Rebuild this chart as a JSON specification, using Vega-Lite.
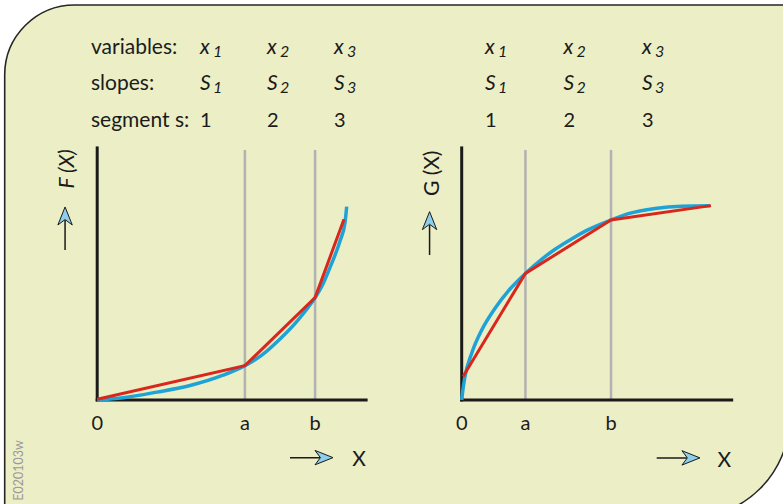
{
  "$schema": "https://vega.github.io/schema/vega-lite/v6.json",
  "width": 783,
  "height": 504,
  "autosize": {"type": "fit", "contains": "padding"},
  "padding": 0,
  "background": "white",
  "config": {
    "view": {"stroke": null},
    "axis": {"disable": true},
    "text": {"font": "Lato", "color": "#1b1b1b"}
  },
  "datasets": {
    "curveF": [
      {"X": 0, "F": 0}, {"X": 0.96, "F": 0.09}, {"X": 2.21, "F": 0.31}, {"X": 3.44, "F": 0.57},
      {"X": 4.66, "F": 0.98}, {"X": 5.47, "F": 1.36}, {"X": 6.12, "F": 1.8}, {"X": 6.77, "F": 2.42},
      {"X": 7.42, "F": 3.15}, {"X": 8.07, "F": 4.06}, {"X": 8.34, "F": 4.55}, {"X": 8.62, "F": 5.25},
      {"X": 8.99, "F": 6.3}, {"X": 9.18, "F": 7.05}, {"X": 9.24, "F": 7.67}
    ],
    "chordF": [
      {"X": 0, "F": 0.03}, {"X": 5.47, "F": 1.36}, {"X": 8.07, "F": 4.06}, {"X": 9.14, "F": 7.17}
    ],
    "breaksF": [
      {"name": "0", "X": 0}, {"name": "a", "X": 5.47}, {"name": "b", "X": 8.07}
    ],
    "curveG": [
      {"X": 0, "G": 0}, {"X": 0.06, "G": 0.52}, {"X": 0.12, "G": 0.92}, {"X": 0.37, "G": 1.85},
      {"X": 0.74, "G": 2.77}, {"X": 1.23, "G": 3.63}, {"X": 1.73, "G": 4.33}, {"X": 2.36, "G": 5.02},
      {"X": 2.96, "G": 5.58}, {"X": 3.46, "G": 5.98}, {"X": 4.07, "G": 6.39}, {"X": 4.69, "G": 6.76},
      {"X": 5.53, "G": 7.14}, {"X": 6.17, "G": 7.39}, {"X": 7.16, "G": 7.6}, {"X": 8.15, "G": 7.69},
      {"X": 9.2, "G": 7.71}
    ],
    "chordG": [
      {"X": 0.05, "G": 0.93}, {"X": 2.36, "G": 5.02}, {"X": 5.53, "G": 7.14}, {"X": 9.23, "G": 7.71}
    ],
    "breaksG": [
      {"name": "0", "X": 0}, {"name": "a", "X": 2.36}, {"name": "b", "X": 5.53}
    ],
    "segments": [
      {"seg": 1, "var": "x", "slope": "S"},
      {"seg": 2, "var": "x", "slope": "S"},
      {"seg": 3, "var": "x", "slope": "S"}
    ]
  },
  "layer": [
    {
      "layer": [
        {
          "data": {"values": [{}]},
          "mark": {"type": "rect", "fill": "#ECEEC6", "stroke": "#262626", "strokeWidth": 1.6,
                   "cornerRadiusTopLeft": 70, "cornerRadiusBottomRight": 100, "clip": true},
          "encoding": {
            "x": {"datum": -3.426, "scale": {"domain": [-3.6, 25.4]}},
            "x2": {"datum": 25.641},
            "y": {"datum": 15.672, "scale": {"domain": [-4.13, 15.87]}},
            "y2": {"datum": -4.678}
          }
        },
        {
          "data": {"name": "breaksF"},
          "transform": [{"filter": "datum.X > 0"}],
          "mark": {"type": "rule", "stroke": "#b2b2b2", "strokeWidth": 2.5},
          "encoding": {
            "x": {"field": "X", "type": "quantitative", "scale": {"domain": [-3.6, 25.4]}},
            "y": {"datum": 0, "scale": {"domain": [-4.13, 15.87]}},
            "y2": {"datum": 9.92}
          }
        },
        {
          "data": {"values": [{}]},
          "mark": {"type": "rule", "stroke": "#1a1a1a", "strokeWidth": 3, "strokeCap": "square"},
          "encoding": {
            "x": {"datum": 0, "scale": {"domain": [-3.6, 25.4]}},
            "y": {"datum": 0, "scale": {"domain": [-4.13, 15.87]}},
            "y2": {"datum": 10}
          }
        },
        {
          "data": {"values": [{}]},
          "mark": {"type": "rule", "stroke": "#1a1a1a", "strokeWidth": 3, "strokeCap": "square"},
          "encoding": {
            "x": {"datum": 0, "scale": {"domain": [-3.6, 25.4]}},
            "x2": {"datum": 9.96},
            "y": {"datum": 0, "scale": {"domain": [-4.13, 15.87]}}
          }
        },
        {
          "data": {"name": "curveF"},
          "mark": {"type": "line", "stroke": "#1FA2D6", "strokeWidth": 3.5, "interpolate": "monotone"},
          "encoding": {
            "x": {"field": "X", "type": "quantitative", "scale": {"domain": [-3.6, 25.4]}},
            "y": {"field": "F", "type": "quantitative", "scale": {"domain": [-4.13, 15.87]}}
          }
        },
        {
          "data": {"name": "chordF"},
          "mark": {"type": "line", "stroke": "#D8271D", "strokeWidth": 3},
          "encoding": {
            "x": {"field": "X", "type": "quantitative", "scale": {"domain": [-3.6, 25.4]}},
            "y": {"field": "F", "type": "quantitative", "scale": {"domain": [-4.13, 15.87]}}
          }
        },
        {
          "data": {"name": "breaksF"},
          "mark": {"type": "text", "fontSize": 20, "align": "center", "baseline": "alphabetic"},
          "encoding": {
            "x": {"field": "X", "type": "quantitative", "scale": {"domain": [-3.6, 25.4]}},
            "y": {"datum": -1.193, "scale": {"domain": [-4.13, 15.87]}},
            "text": {"field": "name", "type": "nominal"}
          }
        },
        {
          "data": {"values": [{}]},
          "mark": {"type": "text", "text": "F (X)", "angle": 270, "fontSize": 21, "fontStyle": "italic",
                   "align": "center", "baseline": "middle"},
          "encoding": {
            "x": {"datum": -1.081, "scale": {"domain": [-3.6, 25.4]}},
            "y": {"datum": 9.164, "scale": {"domain": [-4.13, 15.87]}}
          }
        },
        {
          "data": {"values": [{}]},
          "mark": {"type": "rule", "stroke": "#1a1a1a", "strokeWidth": 1.5},
          "encoding": {
            "x": {"datum": -1.19, "scale": {"domain": [-3.6, 25.4]}},
            "y": {"datum": 5.949, "scale": {"domain": [-4.13, 15.87]}},
            "y2": {"datum": 7.14}
          }
        },
        {
          "data": {"values": [{}]},
          "mark": {"type": "point", "shape": "M0,-1L0.8,1L0,0.4L-0.8,1Z", "size": 324, "filled": true,
                   "fill": "#8ECDEB", "stroke": "#1a1a1a", "strokeWidth": 1, "opacity": 1},
          "encoding": {
            "x": {"datum": -1.19, "scale": {"domain": [-3.6, 25.4]}},
            "y": {"datum": 7.3, "scale": {"domain": [-4.13, 15.87]}}
          }
        },
        {
          "data": {"values": [{}]},
          "mark": {"type": "rule", "stroke": "#1a1a1a", "strokeWidth": 1.5},
          "encoding": {
            "x": {"datum": 7.141, "scale": {"domain": [-3.6, 25.4]}},
            "x2": {"datum": 8.437},
            "y": {"datum": -2.29, "scale": {"domain": [-4.13, 15.87]}}
          }
        },
        {
          "data": {"values": [{}]},
          "mark": {"type": "point", "shape": "M0,-1L0.8,1L0,0.4L-0.8,1Z", "size": 324, "filled": true,
                   "angle": 90, "fill": "#8ECDEB", "stroke": "#1a1a1a", "strokeWidth": 1, "opacity": 1},
          "encoding": {
            "x": {"datum": 8.4, "scale": {"domain": [-3.6, 25.4]}},
            "y": {"datum": -2.29, "scale": {"domain": [-4.13, 15.87]}}
          }
        },
        {
          "data": {"values": [{}]},
          "mark": {"type": "text", "text": "X", "fontSize": 21, "align": "center", "baseline": "alphabetic"},
          "encoding": {
            "x": {"datum": 9.696, "scale": {"domain": [-3.6, 25.4]}},
            "y": {"datum": -2.62, "scale": {"domain": [-4.13, 15.87]}}
          }
        },
        {
          "data": {"values": [{}]},
          "mark": {"type": "text", "text": "E020103w", "angle": 270, "fontSize": 12.5, "color": "#9a9a9a",
                   "align": "center", "baseline": "middle"},
          "encoding": {
            "x": {"datum": -2.896, "scale": {"domain": [-3.6, 25.4]}},
            "y": {"datum": -2.801, "scale": {"domain": [-4.13, 15.87]}}
          }
        }
      ]
    },
    {
      "layer": [
        {
          "data": {"name": "segments"},
          "mark": {"type": "text", "align": "left", "baseline": "alphabetic", "fontSize": 21, "fontStyle": "italic"},
          "encoding": {
            "x": {"field": "seg", "type": "quantitative", "scale": {"domain": [-1.985, 9.701]}},
            "y": {"datum": 13.726, "scale": {"domain": [-4.13, 15.87]}},
            "text": {"field": "var", "type": "nominal"}
          }
        },
        {
          "data": {"name": "segments"},
          "mark": {"type": "text", "align": "left", "baseline": "alphabetic", "fontSize": 16, "fontStyle": "italic", "dx": 13, "dy": 3},
          "encoding": {
            "x": {"field": "seg", "type": "quantitative", "scale": {"domain": [-1.985, 9.701]}},
            "y": {"datum": 13.726, "scale": {"domain": [-4.13, 15.87]}},
            "text": {"field": "seg", "type": "nominal"}
          }
        },
        {
          "data": {"name": "segments"},
          "mark": {"type": "text", "align": "left", "baseline": "alphabetic", "fontSize": 21, "fontStyle": "italic"},
          "encoding": {
            "x": {"field": "seg", "type": "quantitative", "scale": {"domain": [-1.985, 9.701]}},
            "y": {"datum": 12.298, "scale": {"domain": [-4.13, 15.87]}},
            "text": {"field": "slope", "type": "nominal"}
          }
        },
        {
          "data": {"name": "segments"},
          "mark": {"type": "text", "align": "left", "baseline": "alphabetic", "fontSize": 16, "fontStyle": "italic", "dx": 13, "dy": 3},
          "encoding": {
            "x": {"field": "seg", "type": "quantitative", "scale": {"domain": [-1.985, 9.701]}},
            "y": {"datum": 12.298, "scale": {"domain": [-4.13, 15.87]}},
            "text": {"field": "seg", "type": "nominal"}
          }
        },
        {
          "data": {"name": "segments"},
          "mark": {"type": "text", "align": "left", "baseline": "alphabetic", "fontSize": 20},
          "encoding": {
            "x": {"field": "seg", "type": "quantitative", "scale": {"domain": [-1.985, 9.701]}},
            "y": {"datum": 10.841, "scale": {"domain": [-4.13, 15.87]}},
            "text": {"field": "seg", "type": "nominal"}
          }
        },
        {
          "data": {"values": [{}]},
          "mark": {"type": "text", "text": "variables:", "align": "left", "baseline": "alphabetic", "fontSize": 21},
          "encoding": {
            "x": {"datum": -0.627, "scale": {"domain": [-1.985, 9.701]}},
            "y": {"datum": 13.726, "scale": {"domain": [-4.13, 15.87]}}
          }
        },
        {
          "data": {"values": [{}]},
          "mark": {"type": "text", "text": "slopes:", "align": "left", "baseline": "alphabetic", "fontSize": 21},
          "encoding": {
            "x": {"datum": -0.627, "scale": {"domain": [-1.985, 9.701]}},
            "y": {"datum": 12.298, "scale": {"domain": [-4.13, 15.87]}}
          }
        },
        {
          "data": {"values": [{}]},
          "mark": {"type": "text", "text": "segment s:", "align": "left", "baseline": "alphabetic", "fontSize": 21},
          "encoding": {
            "x": {"datum": -0.627, "scale": {"domain": [-1.985, 9.701]}},
            "y": {"datum": 10.841, "scale": {"domain": [-4.13, 15.87]}}
          }
        }
      ]
    },
    {
      "layer": [
        {
          "data": {"name": "breaksG"},
          "transform": [{"filter": "datum.X > 0"}],
          "mark": {"type": "rule", "stroke": "#b2b2b2", "strokeWidth": 2.5},
          "encoding": {
            "x": {"field": "X", "type": "quantitative", "scale": {"domain": [-17.1, 11.9]}},
            "y": {"datum": 0, "scale": {"domain": [-4.13, 15.87]}},
            "y2": {"datum": 9.92}
          }
        },
        {
          "data": {"values": [{}]},
          "mark": {"type": "rule", "stroke": "#1a1a1a", "strokeWidth": 3, "strokeCap": "square"},
          "encoding": {
            "x": {"datum": 0, "scale": {"domain": [-17.1, 11.9]}},
            "y": {"datum": 0, "scale": {"domain": [-4.13, 15.87]}},
            "y2": {"datum": 10}
          }
        },
        {
          "data": {"values": [{}]},
          "mark": {"type": "rule", "stroke": "#1a1a1a", "strokeWidth": 3, "strokeCap": "square"},
          "encoding": {
            "x": {"datum": 0, "scale": {"domain": [-17.1, 11.9]}},
            "x2": {"datum": 10},
            "y": {"datum": 0, "scale": {"domain": [-4.13, 15.87]}}
          }
        },
        {
          "data": {"name": "curveG"},
          "mark": {"type": "line", "stroke": "#1FA2D6", "strokeWidth": 3.5, "interpolate": "monotone"},
          "encoding": {
            "x": {"field": "X", "type": "quantitative", "scale": {"domain": [-17.1, 11.9]}},
            "y": {"field": "G", "type": "quantitative", "scale": {"domain": [-4.13, 15.87]}}
          }
        },
        {
          "data": {"name": "chordG"},
          "mark": {"type": "line", "stroke": "#D8271D", "strokeWidth": 3},
          "encoding": {
            "x": {"field": "X", "type": "quantitative", "scale": {"domain": [-17.1, 11.9]}},
            "y": {"field": "G", "type": "quantitative", "scale": {"domain": [-4.13, 15.87]}}
          }
        },
        {
          "data": {"name": "breaksG"},
          "mark": {"type": "text", "fontSize": 20, "align": "center", "baseline": "alphabetic"},
          "encoding": {
            "x": {"field": "X", "type": "quantitative", "scale": {"domain": [-17.1, 11.9]}},
            "y": {"datum": -1.193, "scale": {"domain": [-4.13, 15.87]}},
            "text": {"field": "name", "type": "nominal"}
          }
        },
        {
          "data": {"values": [{}]},
          "mark": {"type": "text", "text": "G (X)", "angle": 270, "fontSize": 21,
                   "align": "center", "baseline": "middle"},
          "encoding": {
            "x": {"datum": -1.081, "scale": {"domain": [-17.1, 11.9]}},
            "y": {"datum": 8.993, "scale": {"domain": [-4.13, 15.87]}}
          }
        },
        {
          "data": {"values": [{}]},
          "mark": {"type": "rule", "stroke": "#1a1a1a", "strokeWidth": 1.5},
          "encoding": {
            "x": {"datum": -1.19, "scale": {"domain": [-17.1, 11.9]}},
            "y": {"datum": 5.751, "scale": {"domain": [-4.13, 15.87]}},
            "y2": {"datum": 6.941}
          }
        },
        {
          "data": {"values": [{}]},
          "mark": {"type": "point", "shape": "M0,-1L0.8,1L0,0.4L-0.8,1Z", "size": 324, "filled": true,
                   "fill": "#8ECDEB", "stroke": "#1a1a1a", "strokeWidth": 1, "opacity": 1},
          "encoding": {
            "x": {"datum": -1.19, "scale": {"domain": [-17.1, 11.9]}},
            "y": {"datum": 7.114, "scale": {"domain": [-4.13, 15.87]}}
          }
        },
        {
          "data": {"values": [{}]},
          "mark": {"type": "rule", "stroke": "#1a1a1a", "strokeWidth": 1.5},
          "encoding": {
            "x": {"datum": 7.222, "scale": {"domain": [-17.1, 11.9]}},
            "x2": {"datum": 8.53},
            "y": {"datum": -2.3, "scale": {"domain": [-4.13, 15.87]}}
          }
        },
        {
          "data": {"values": [{}]},
          "mark": {"type": "point", "shape": "M0,-1L0.8,1L0,0.4L-0.8,1Z", "size": 324, "filled": true,
                   "angle": 90, "fill": "#8ECDEB", "stroke": "#1a1a1a", "strokeWidth": 1, "opacity": 1},
          "encoding": {
            "x": {"datum": 8.49, "scale": {"domain": [-17.1, 11.9]}},
            "y": {"datum": -2.3, "scale": {"domain": [-4.13, 15.87]}}
          }
        },
        {
          "data": {"values": [{}]},
          "mark": {"type": "text", "text": "X", "fontSize": 21, "align": "center", "baseline": "alphabetic"},
          "encoding": {
            "x": {"datum": 9.722, "scale": {"domain": [-17.1, 11.9]}},
            "y": {"datum": -2.65, "scale": {"domain": [-4.13, 15.87]}}
          }
        }
      ]
    },
    {
      "layer": [
        {
          "data": {"name": "segments"},
          "mark": {"type": "text", "align": "left", "baseline": "alphabetic", "fontSize": 21, "fontStyle": "italic"},
          "encoding": {
            "x": {"field": "seg", "type": "quantitative", "scale": {"domain": [-5.178, 4.796]}},
            "y": {"datum": 13.726, "scale": {"domain": [-4.13, 15.87]}},
            "text": {"field": "var", "type": "nominal"}
          }
        },
        {
          "data": {"name": "segments"},
          "mark": {"type": "text", "align": "left", "baseline": "alphabetic", "fontSize": 16, "fontStyle": "italic", "dx": 13, "dy": 3},
          "encoding": {
            "x": {"field": "seg", "type": "quantitative", "scale": {"domain": [-5.178, 4.796]}},
            "y": {"datum": 13.726, "scale": {"domain": [-4.13, 15.87]}},
            "text": {"field": "seg", "type": "nominal"}
          }
        },
        {
          "data": {"name": "segments"},
          "mark": {"type": "text", "align": "left", "baseline": "alphabetic", "fontSize": 21, "fontStyle": "italic"},
          "encoding": {
            "x": {"field": "seg", "type": "quantitative", "scale": {"domain": [-5.178, 4.796]}},
            "y": {"datum": 12.298, "scale": {"domain": [-4.13, 15.87]}},
            "text": {"field": "slope", "type": "nominal"}
          }
        },
        {
          "data": {"name": "segments"},
          "mark": {"type": "text", "align": "left", "baseline": "alphabetic", "fontSize": 16, "fontStyle": "italic", "dx": 13, "dy": 3},
          "encoding": {
            "x": {"field": "seg", "type": "quantitative", "scale": {"domain": [-5.178, 4.796]}},
            "y": {"datum": 12.298, "scale": {"domain": [-4.13, 15.87]}},
            "text": {"field": "seg", "type": "nominal"}
          }
        },
        {
          "data": {"name": "segments"},
          "mark": {"type": "text", "align": "left", "baseline": "alphabetic", "fontSize": 20},
          "encoding": {
            "x": {"field": "seg", "type": "quantitative", "scale": {"domain": [-5.178, 4.796]}},
            "y": {"datum": 10.841, "scale": {"domain": [-4.13, 15.87]}},
            "text": {"field": "seg", "type": "nominal"}
          }
        }
      ]
    }
  ],
  "resolve": {"scale": {"x": "independent"}}
}
